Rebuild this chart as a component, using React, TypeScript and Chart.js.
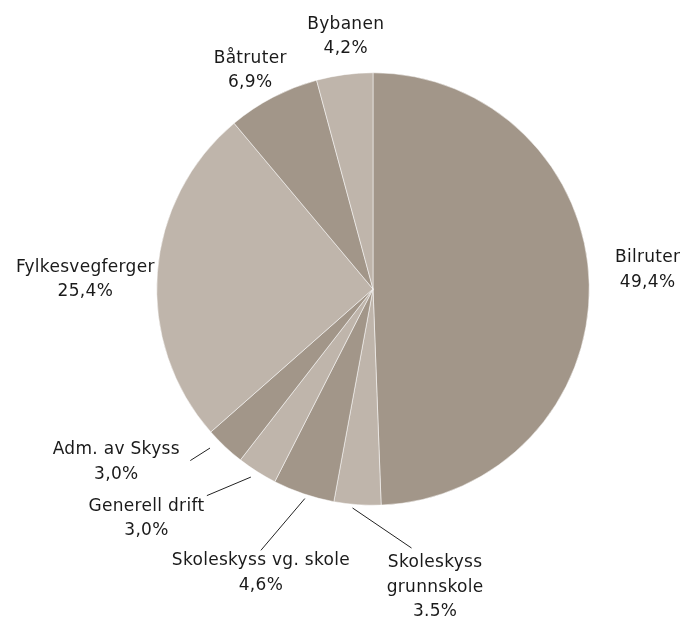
import React, { useEffect, useRef } from "react";
import { Chart, registerables } from "chart.js";

Chart.register(...registerables);

const categories = [
  "Bilruter",
  "Skoleskyss grunnskole",
  "Skoleskyss vg. skole",
  "Generell drift",
  "Adm. av Skyss",
  "Fylkesvegferger",
  "Båtruter",
  "Bybanen",
];
const values = [49.4, 3.5, 4.6, 3.0, 3.0, 25.4, 6.9, 4.2];
const valueLabels = ["49,4%", "3.5%", "4,6%", "3,0%", "3,0%", "25,4%", "6,9%", "4,2%"];
const labelLines = [
  ["Bilruter"],
  ["Skoleskyss", "grunnskole"],
  ["Skoleskyss vg. skole"],
  ["Generell drift"],
  ["Adm. av Skyss"],
  ["Fylkesvegferger"],
  ["Båtruter"],
  ["Bybanen"],
];

const DARK = "#a29689";
const LIGHT = "#bfb5ab";
const sliceColors = [DARK, LIGHT, DARK, LIGHT, DARK, LIGHT, DARK, LIGHT];

// label layout relative to each arc's mid angle (deg offset, radius factor)
const labelLayout = [
  { da: -2.9, r: 1.273, leader: null },
  { da: -15.9, r: 1.409, leader: { s: [1.2, 1.017], e: [-12.6, 1.211] } },
  { da: 2.8, r: 1.413, leader: { s: [-0.7, 1.019], e: [4.5, 1.315] } },
  { da: 12.2, r: 1.492, leader: { s: [0.6, 1.037], e: [6.4, 1.226] } },
  { da: 12.8, r: 1.432, leader: { s: [2.5, 1.053], e: [3.6, 1.159] } },
  { da: -2.4, r: 1.331, leader: null },
  { da: -1.8, r: 1.159, leader: null },
  { da: 1.4, r: 1.175, leader: null },
];

const FONT = '17px "DejaVu Sans", sans-serif';
const LINE_H = 24.5;

const labelPlugin = {
  id: "pieLabels",
  afterDatasetsDraw(chart: any) {
    const ctx = chart.ctx;
    const meta = chart.getDatasetMeta(0);
    const rad = Math.PI / 180;
    ctx.save();
    meta.data.forEach((arc: any, i: number) => {
      const p = arc.getProps(["x", "y", "startAngle", "endAngle", "outerRadius"], true);
      const mid = (p.startAngle + p.endAngle) / 2;
      const R = p.outerRadius;
      const L = labelLayout[i];
      const pt = (da: number, rf: number) => ({
        x: p.x + Math.cos(mid + da * rad) * R * rf,
        y: p.y + Math.sin(mid + da * rad) * R * rf,
      });
      if (L.leader) {
        const s = pt(L.leader.s[0], L.leader.s[1]);
        const e = pt(L.leader.e[0], L.leader.e[1]);
        ctx.beginPath();
        ctx.moveTo(s.x, s.y);
        ctx.lineTo(e.x, e.y);
        ctx.strokeStyle = "#222";
        ctx.lineWidth = 1;
        ctx.stroke();
      }
      const c = pt(L.da, L.r);
      const lines = [...labelLines[i], valueLabels[i]];
      ctx.font = FONT;
      try {
        (ctx as any).letterSpacing = "0.3px";
      } catch (e) {}
      ctx.fillStyle = "#1a1a1a";
      ctx.textAlign = "center";
      ctx.textBaseline = "middle";
      const y0 = c.y - ((lines.length - 1) * LINE_H) / 2;
      lines.forEach((t, k) => ctx.fillText(t, c.x, y0 + k * LINE_H));
    });
    ctx.restore();
  },
};

export default function App() {
  const ref = useRef<HTMLCanvasElement | null>(null);
  useEffect(() => {
    document.body.style.margin = "0";
    if (!ref.current) return;
    const chart = new Chart(ref.current, {
      type: "pie",
      data: {
        labels: categories,
        datasets: [
          {
            data: values,
            backgroundColor: sliceColors,
            borderColor: "#ffffff",
            borderWidth: 0.5,
            hoverOffset: 0,
          },
        ],
      },
      options: {
        animation: false,
        responsive: true,
        maintainAspectRatio: false,
        layout: { padding: { left: 156.5, right: 97.5, top: 72.5, bottom: 113.5 } },
        plugins: {
          legend: { display: false },
          tooltip: { enabled: false },
        },
      },
      plugins: [labelPlugin],
    });
    return () => chart.destroy();
  }, []);
  return (
    <div style={{ width: 687, height: 619, position: "relative", overflow: "hidden" }}>
      <canvas ref={ref} />
    </div>
  );
}
